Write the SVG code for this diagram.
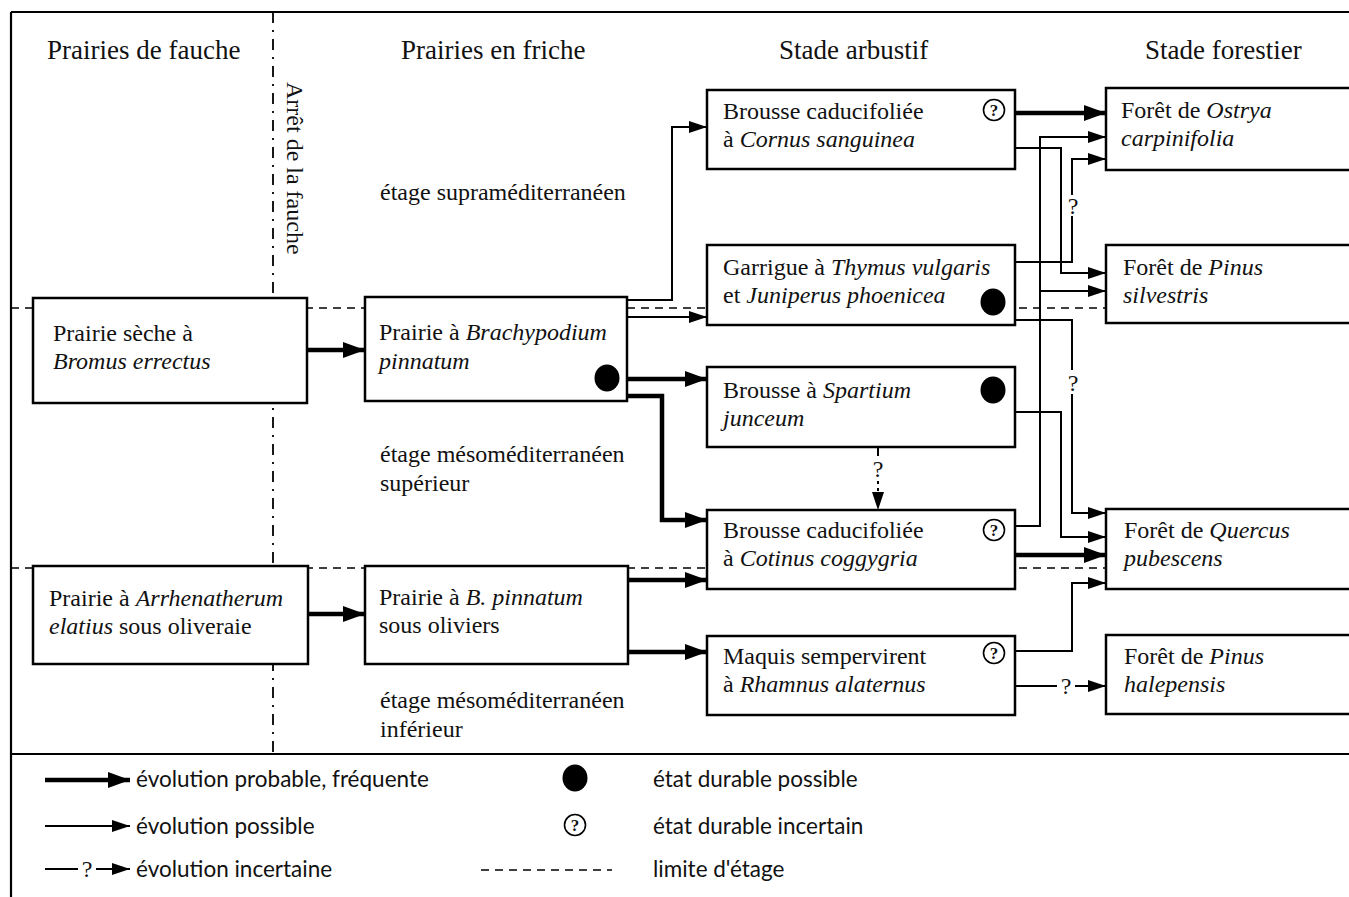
<svg xmlns="http://www.w3.org/2000/svg" width="1349" height="897" viewBox="0 0 1349 897">
<style>
.box{fill:#fff;stroke:#000;stroke-width:2.5}
.t{font-family:"Liberation Serif","Times New Roman",serif;font-size:24px;fill:#111}
.h{font-family:"Liberation Serif","Times New Roman",serif;font-size:27px;fill:#111}
.lg{font-family:Lato,"Liberation Sans",sans-serif;font-size:22.5px;fill:#111}
.i{font-style:italic}
.c1{fill:none;stroke:#000;stroke-width:2}
.c2{fill:none;stroke:#000;stroke-width:4.5}
.dash{fill:none;stroke:#000;stroke-width:1.6;stroke-dasharray:8 6}
.dd{fill:none;stroke:#000;stroke-width:1.8;stroke-dasharray:11 7 2 7}
.frame{fill:none;stroke:#000;stroke-width:2.2}
.q{font-family:"Liberation Serif","Times New Roman",serif;font-size:24px;fill:#111;text-anchor:middle}
.qi{font-family:"Liberation Serif","Times New Roman",serif;font-size:17px;font-weight:bold;fill:#111;text-anchor:middle}
.ring{fill:#fff;stroke:#000;stroke-width:1.6}
</style>
<defs>
<marker id="aThick" markerUnits="userSpaceOnUse" markerWidth="22" markerHeight="16" refX="22" refY="8" orient="auto"><path d="M0,0 L22,8 L0,16 z" fill="#000"/></marker>
<marker id="aThin" markerUnits="userSpaceOnUse" markerWidth="18" markerHeight="12" refX="18" refY="6" orient="auto"><path d="M0,0 L18,6 L0,12 z" fill="#000"/></marker>
</defs>
<rect x="0" y="0" width="1349" height="897" fill="#fff"/>

<g id="frame">
<path class="frame" d="M11,12 H1349 M11,12 V897 M11,754 H1349"/>
</g>

<g id="limits">
<path class="dash" d="M11,308 H1106 M11,568 H1106"/>
<path class="dd" d="M273,12 V753"/>
</g>

<g id="headers">
<text class="h" x="47" y="59">Prairies de fauche</text>
<text class="h" x="401" y="59">Prairies en friche</text>
<text class="h" x="779" y="59">Stade arbustif</text>
<text class="h" x="1145" y="59">Stade forestier</text>
<text class="t" transform="translate(287,82) rotate(90)">Arrêt de la fauche</text>
<text class="t" x="380" y="200">étage supraméditerranéen</text>
<text class="t" x="380" y="462">étage mésoméditerranéen</text>
<text class="t" x="380" y="491">supérieur</text>
<text class="t" x="380" y="708">étage mésoméditerranéen</text>
<text class="t" x="380" y="737">inférieur</text>
</g>

<g id="connectors">
<path class="c2" marker-end="url(#aThick)" d="M307,350 H365"/>
<path class="c2" marker-end="url(#aThick)" d="M308,614 H365"/>
<path class="c2" marker-end="url(#aThick)" d="M627,379 H707"/>
<path class="c2" marker-end="url(#aThick)" d="M627,396 H662 V520 H707"/>
<path class="c2" marker-end="url(#aThick)" d="M628,580 H707"/>
<path class="c2" marker-end="url(#aThick)" d="M628,652 H707"/>
<path class="c2" marker-end="url(#aThick)" d="M1015,113 H1106"/>
<path class="c2" marker-end="url(#aThick)" d="M1015,555 H1106"/>

<path class="c1" marker-end="url(#aThin)" d="M627,300 H672 V127 H707"/>
<path class="c1" marker-end="url(#aThin)" d="M627,317 H707"/>
<path class="c1" marker-end="url(#aThin)" d="M1015,148 H1061 V273 H1106"/>
<path class="c1" marker-end="url(#aThin)" d="M1015,526 H1040 V137 H1106"/>
<path class="c1" marker-end="url(#aThin)" d="M1040,291 H1106"/>
<path class="c1" d="M1015,262 H1072 V216"/>
<path class="c1" marker-end="url(#aThin)" d="M1072,195 V159 H1106"/>
<text class="q" x="1073" y="214">?</text>
<path class="c1" d="M1015,320 H1072 V370"/>
<path class="c1" marker-end="url(#aThin)" d="M1072,394 V513 H1106"/>
<text class="q" x="1073" y="391">?</text>
<path class="c1" marker-end="url(#aThin)" d="M1015,412 H1061 V537 H1106"/>
<path class="c1" marker-end="url(#aThin)" d="M1015,651 H1072 V583 H1106"/>
<path class="c1" d="M1015,686 H1057"/>
<text class="q" x="1066" y="694">?</text>
<path class="c1" marker-end="url(#aThin)" d="M1075,686 H1106"/>
<path class="c1" d="M878,447 V456"/>
<text class="q" x="878" y="477">?</text>
<path class="c1" marker-end="url(#aThin)" d="M878,481 V510" stroke-dasharray="3 4"/>
</g>

<g id="n-bromus">
<rect class="box" x="33" y="298" width="274" height="105"/>
<text class="t" x="53" y="341">Prairie sèche à</text>
<text class="t i" x="53" y="369">Bromus errectus</text>
</g>
<g id="n-brachypodium">
<rect class="box" x="365" y="297" width="262" height="104"/>
<text class="t" x="379" y="340">Prairie à <tspan class="i">Brachypodium</tspan></text>
<text class="t i" x="379" y="369">pinnatum</text>
<ellipse cx="607" cy="378" rx="12.5" ry="13.5" fill="#000"/>
</g>
<g id="n-arrhenatherum">
<rect class="box" x="33" y="566" width="275" height="98"/>
<text class="t" x="49" y="606">Prairie à <tspan class="i">Arrhenatherum</tspan></text>
<text class="t" x="49" y="634"><tspan class="i">elatius</tspan> sous oliveraie</text>
</g>
<g id="n-bpinnatum">
<rect class="box" x="365" y="566" width="263" height="98"/>
<text class="t" x="379" y="605">Prairie à <tspan class="i">B. pinnatum</tspan></text>
<text class="t" x="379" y="633">sous oliviers</text>
</g>

<g id="n-cornus">
<rect class="box" x="707" y="90" width="308" height="79"/>
<text class="t" x="723" y="119">Brousse caducifoliée</text>
<text class="t" x="723" y="147">à <tspan class="i">Cornus sanguinea</tspan></text>
<circle class="ring" cx="994" cy="110" r="10.5"/><text class="qi" x="994" y="116">?</text>
</g>
<g id="n-garrigue">
<rect class="box" x="707" y="245" width="308" height="80"/>
<text class="t" x="723" y="275">Garrigue à <tspan class="i">Thymus vulgaris</tspan></text>
<text class="t" x="723" y="303">et <tspan class="i">Juniperus phoenicea</tspan></text>
<ellipse cx="993" cy="302" rx="12.5" ry="13.5" fill="#000"/>
</g>
<g id="n-spartium">
<rect class="box" x="707" y="367" width="308" height="80"/>
<text class="t" x="723" y="398">Brousse à <tspan class="i">Spartium</tspan></text>
<text class="t i" x="723" y="426">junceum</text>
<ellipse cx="993" cy="390" rx="12.5" ry="13.5" fill="#000"/>
</g>
<g id="n-cotinus">
<rect class="box" x="707" y="510" width="308" height="79"/>
<text class="t" x="723" y="538">Brousse caducifoliée</text>
<text class="t" x="723" y="566">à <tspan class="i">Cotinus coggygria</tspan></text>
<circle class="ring" cx="994" cy="530" r="10.5"/><text class="qi" x="994" y="536">?</text>
</g>
<g id="n-maquis">
<rect class="box" x="707" y="636" width="308" height="79"/>
<text class="t" x="723" y="664">Maquis sempervirent</text>
<text class="t" x="723" y="692">à <tspan class="i">Rhamnus alaternus</tspan></text>
<circle class="ring" cx="994" cy="653" r="10.5"/><text class="qi" x="994" y="659">?</text>
</g>

<g id="n-ostrya">
<rect class="box" x="1106" y="88" width="260" height="82"/>
<text class="t" x="1121" y="118">Forêt de <tspan class="i">Ostrya</tspan></text>
<text class="t i" x="1121" y="146">carpinifolia</text>
</g>
<g id="n-silvestris">
<rect class="box" x="1106" y="245" width="260" height="78"/>
<text class="t" x="1123" y="275">Forêt de <tspan class="i">Pinus</tspan></text>
<text class="t i" x="1123" y="303">silvestris</text>
</g>
<g id="n-quercus">
<rect class="box" x="1106" y="509" width="260" height="80"/>
<text class="t" x="1124" y="538">Forêt de <tspan class="i">Quercus</tspan></text>
<text class="t i" x="1124" y="566">pubescens</text>
</g>
<g id="n-halepensis">
<rect class="box" x="1106" y="635" width="260" height="79"/>
<text class="t" x="1124" y="664">Forêt de <tspan class="i">Pinus</tspan></text>
<text class="t i" x="1124" y="692">halepensis</text>
</g>

<g id="legend">
<path class="c2" marker-end="url(#aThick)" d="M45,780 H130"/>
<text class="lg" x="136" y="787">évolution probable, fréquente</text>
<path class="c1" marker-end="url(#aThin)" d="M45,826 H130"/>
<text class="lg" x="136" y="834">évolution possible</text>
<path class="c1" d="M45,869 H78"/>
<text class="q" x="87" y="877">?</text>
<path class="c1" marker-end="url(#aThin)" d="M96,869 H130"/>
<text class="lg" x="136" y="877">évolution incertaine</text>
<ellipse cx="575" cy="778" rx="12.5" ry="13.5" fill="#000"/>
<circle class="ring" cx="575" cy="825" r="10.5"/><text class="qi" x="575" y="831">?</text>
<path class="dash" d="M481,870 H612"/>
<text class="lg" x="653" y="787">état durable possible</text>
<text class="lg" x="653" y="834">état durable incertain</text>
<text class="lg" x="653" y="877">limite d'étage</text>
</g>
</svg>
